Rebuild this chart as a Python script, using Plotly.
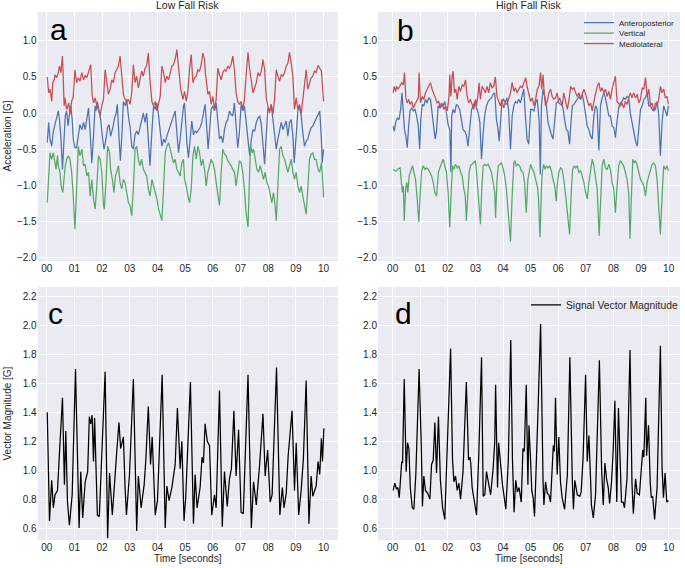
import plotly.graph_objects as go

W, H = 685, 568

# ---------------- data (time [s], acceleration [G]) ----------------
low_ap = [(0.02,-0.41),(0.07,-0.13),(0.12,-0.36),(0.18,-0.46),(0.24,-0.25),(0.30,-0.16),(0.36,-0.09),(0.42,0.03),(0.46,-0.09),(0.51,-0.32),(0.57,-0.78),(0.63,-0.32),(0.67,-0.04),(0.72,0.03),(0.77,-0.18),(0.82,-0.02),(0.87,0.10),(0.92,-0.09),(0.96,-0.36),(1.02,-0.48),(1.08,-0.48),(1.14,-0.32),(1.20,-0.16),(1.27,-0.23),(1.33,-0.13),(1.39,-0.23),(1.45,-0.09),(1.51,0.07),(1.57,-0.27),(1.63,-0.69),(1.69,-0.32),(1.75,0.10),(1.78,0.03),(1.83,0.16),(1.89,0.03),(1.95,-0.09),(2.02,-0.36),(2.07,-0.50),(2.14,-0.36),(2.20,-0.20),(2.25,-0.16),(2.31,-0.32),(2.39,-0.20),(2.45,-0.07),(2.51,0.00),(2.55,0.12),(2.61,-0.32),(2.66,-0.66),(2.72,-0.27),(2.77,0.16),(2.84,0.10),(2.89,0.19),(2.95,-0.04),(3.01,-0.20),(3.07,-0.46),(3.13,-0.50),(3.19,-0.30),(3.25,-0.25),(3.31,-0.30),(3.37,-0.20),(3.43,-0.09),(3.49,0.00),(3.55,-0.13),(3.61,0.00),(3.67,-0.36),(3.73,-0.73),(3.80,-0.25),(3.86,0.10),(3.92,0.05),(3.98,0.14),(4.04,-0.04),(4.10,-0.23),(4.16,-0.46),(4.22,-0.36),(4.28,-0.41),(4.34,-0.32),(4.40,-0.25),(4.46,-0.16),(4.52,-0.09),(4.58,-0.02),(4.64,0.03),(4.70,-0.27),(4.76,-0.55),(4.82,-0.36),(4.88,-0.09),(4.94,0.10),(4.98,0.14),(5.01,-0.09),(5.06,-0.41),(5.12,-0.62),(5.18,-0.32),(5.24,-0.11),(5.30,-0.30),(5.36,-0.25),(5.42,-0.27),(5.48,-0.23),(5.54,-0.20),(5.60,-0.13),(5.66,0.03),(5.72,0.12),(5.78,-0.20),(5.83,-0.50),(5.88,-0.25),(5.94,0.05),(6.00,0.10),(6.06,0.03),(6.12,0.14),(6.18,-0.09),(6.24,-0.36),(6.30,-0.32),(6.36,-0.41),(6.42,-0.23),(6.48,-0.13),(6.54,-0.09),(6.60,0.03),(6.66,-0.02),(6.72,-0.04),(6.78,0.14),(6.84,-0.18),(6.90,-0.48),(6.96,-0.27),(7.02,0.12),(7.08,0.03),(7.14,0.10),(7.20,-0.11),(7.27,-0.41),(7.33,-0.59),(7.39,-0.36),(7.45,-0.23),(7.51,-0.25),(7.57,-0.13),(7.63,-0.07),(7.69,-0.04),(7.75,-0.16),(7.81,-0.46),(7.87,-0.71),(7.93,-0.30),(7.99,0.07),(8.05,0.03),(8.11,0.12),(8.17,-0.09),(8.23,-0.30),(8.29,-0.50),(8.35,-0.36),(8.41,-0.23),(8.47,-0.13),(8.53,-0.23),(8.59,-0.18),(8.65,-0.11),(8.71,-0.32),(8.77,-0.13),(8.83,-0.09),(8.89,-0.32),(8.94,-0.69),(9.01,-0.20),(9.07,0.03),(9.13,0.10),(9.19,-0.04),(9.25,-0.27),(9.31,-0.46),(9.37,-0.39),(9.43,-0.36),(9.49,-0.27),(9.55,-0.20),(9.61,-0.18),(9.67,-0.13),(9.73,-0.09),(9.80,-0.04),(9.86,0.03),(9.92,-0.36),(9.95,-0.69),(10.0,-0.50)]

low_v = [(0.02,-1.24),(0.07,-0.82),(0.12,-0.55),(0.18,-0.64),(0.24,-0.55),(0.30,-0.69),(0.34,-0.78),(0.39,-0.59),(0.42,-0.73),(0.48,-0.82),(0.52,-1.01),(0.58,-1.10),(0.63,-0.82),(0.67,-0.73),(0.72,-0.64),(0.78,-0.59),(0.84,-0.64),(0.90,-0.82),(0.96,-1.15),(1.02,-1.61),(1.08,-1.05),(1.14,-0.46),(1.20,-0.59),(1.27,-0.50),(1.33,-0.73),(1.39,-0.71),(1.45,-0.87),(1.51,-0.82),(1.57,-1.15),(1.63,-0.92),(1.69,-1.19),(1.75,-1.33),(1.81,-1.01),(1.87,-0.59),(1.93,-0.64),(1.99,-0.82),(2.05,-1.28),(2.08,-1.33),(2.14,-0.96),(2.20,-0.46),(2.27,-0.55),(2.31,-0.78),(2.37,-0.92),(2.43,-1.10),(2.48,-0.87),(2.53,-0.82),(2.59,-0.73),(2.65,-0.96),(2.71,-1.05),(2.77,-0.92),(2.83,-0.96),(2.89,-1.10),(2.95,-1.24),(3.01,-1.28),(3.07,-1.42),(3.13,-1.05),(3.19,-0.50),(3.25,-0.46),(3.31,-0.64),(3.37,-0.73),(3.43,-0.64),(3.49,-0.78),(3.55,-0.82),(3.61,-0.87),(3.67,-1.05),(3.73,-1.15),(3.80,-0.92),(3.86,-1.01),(3.92,-1.10),(3.98,-1.19),(4.04,-1.33),(4.10,-1.42),(4.16,-1.49),(4.22,-1.05),(4.28,-0.55),(4.34,-0.46),(4.40,-0.41),(4.46,-0.50),(4.52,-0.59),(4.58,-0.69),(4.64,-0.64),(4.70,-0.78),(4.76,-0.82),(4.82,-0.87),(4.88,-0.69),(4.94,-0.64),(4.98,-0.92),(5.04,-1.01),(5.10,-1.15),(5.16,-1.24),(5.22,-1.05),(5.28,-0.59),(5.34,-0.46),(5.40,-0.64),(5.46,-0.46),(5.52,-0.55),(5.58,-0.73),(5.64,-0.64),(5.70,-0.78),(5.76,-1.01),(5.82,-0.82),(5.88,-0.73),(5.94,-0.64),(6.00,-0.69),(6.06,-0.78),(6.12,-0.96),(6.18,-1.15),(6.24,-1.28),(6.30,-0.82),(6.36,-0.50),(6.42,-0.57),(6.48,-0.59),(6.54,-0.66),(6.60,-0.69),(6.66,-0.73),(6.72,-0.78),(6.78,-0.82),(6.84,-1.01),(6.90,-0.82),(6.96,-0.66),(7.02,-0.69),(7.08,-0.82),(7.14,-1.05),(7.20,-1.38),(7.27,-1.58),(7.33,-0.96),(7.36,-0.43),(7.42,-0.55),(7.47,-0.50),(7.53,-0.64),(7.59,-0.78),(7.65,-0.82),(7.71,-0.73),(7.77,-0.82),(7.83,-0.92),(7.89,-0.82),(7.95,-0.96),(8.01,-1.01),(8.07,-1.15),(8.13,-1.24),(8.19,-1.10),(8.25,-1.28),(8.29,-1.49),(8.35,-0.96),(8.41,-0.50),(8.47,-0.46),(8.53,-0.59),(8.59,-0.64),(8.65,-0.73),(8.71,-0.82),(8.77,-0.73),(8.83,-0.64),(8.89,-0.82),(8.95,-0.92),(9.01,-0.82),(9.07,-1.01),(9.13,-1.10),(9.19,-1.01),(9.25,-1.15),(9.31,-1.28),(9.37,-1.40),(9.43,-1.05),(9.49,-0.64),(9.55,-0.57),(9.61,-0.55),(9.67,-0.64),(9.73,-0.64),(9.80,-0.78),(9.86,-0.82),(9.92,-0.69),(9.95,-0.82),(10.0,-1.17)]

low_ml = [(0.02,0.50),(0.07,0.28),(0.12,0.33),(0.18,0.16),(0.22,0.42),(0.27,0.46),(0.30,0.53),(0.36,0.49),(0.42,0.56),(0.46,0.65),(0.51,0.56),(0.57,0.79),(0.63,0.10),(0.66,0.21),(0.72,0.05),(0.80,0.14),(0.84,-0.02),(0.90,0.16),(0.96,0.23),(1.02,0.60),(1.08,0.42),(1.14,0.49),(1.20,0.44),(1.27,0.56),(1.33,0.46),(1.39,0.52),(1.45,0.49),(1.51,0.58),(1.59,0.67),(1.64,0.26),(1.69,0.14),(1.75,0.21),(1.81,0.10),(1.87,0.05),(1.93,-0.04),(1.99,0.10),(2.05,0.19),(2.11,0.60),(2.17,0.46),(2.23,0.26),(2.29,0.33),(2.35,0.46),(2.41,0.42),(2.47,0.56),(2.53,0.60),(2.59,0.65),(2.65,0.79),(2.71,0.46),(2.77,0.26),(2.83,0.19),(2.89,0.16),(2.95,0.19),(3.01,0.12),(3.07,0.28),(3.13,0.67),(3.19,0.42),(3.25,0.51),(3.31,0.35),(3.37,0.46),(3.43,0.58),(3.49,0.51),(3.55,0.62),(3.61,0.65),(3.67,0.83),(3.73,0.46),(3.80,0.16),(3.86,0.10),(3.92,0.16),(3.98,0.03),(4.04,0.12),(4.10,0.23),(4.16,0.65),(4.22,0.56),(4.28,0.42),(4.34,0.51),(4.40,0.46),(4.46,0.58),(4.52,0.65),(4.58,0.67),(4.64,0.74),(4.70,0.88),(4.73,0.76),(4.80,0.42),(4.84,0.33),(4.92,0.19),(4.98,0.30),(5.04,0.16),(5.10,0.30),(5.16,0.62),(5.22,0.81),(5.28,0.42),(5.34,0.49),(5.40,0.51),(5.46,0.60),(5.52,0.58),(5.58,0.67),(5.64,0.83),(5.70,0.74),(5.73,0.56),(5.82,0.26),(5.88,0.30),(5.94,0.12),(6.00,0.23),(6.06,0.05),(6.12,0.19),(6.18,0.62),(6.24,0.53),(6.30,0.46),(6.36,0.56),(6.42,0.60),(6.48,0.58),(6.54,0.65),(6.60,0.62),(6.66,0.67),(6.72,0.79),(6.78,0.60),(6.84,0.28),(6.90,0.16),(6.96,0.12),(7.02,0.16),(7.08,0.05),(7.14,0.19),(7.20,0.51),(7.27,0.84),(7.33,0.60),(7.39,0.42),(7.45,0.28),(7.51,0.35),(7.57,0.42),(7.63,0.56),(7.69,0.51),(7.75,0.58),(7.81,0.74),(7.87,0.60),(7.93,0.21),(7.99,0.10),(8.05,0.00),(8.11,0.12),(8.17,-0.02),(8.23,0.19),(8.29,0.60),(8.35,0.51),(8.41,0.44),(8.47,0.53),(8.53,0.51),(8.59,0.56),(8.65,0.65),(8.71,0.69),(8.77,0.84),(8.83,0.69),(8.89,0.51),(8.95,0.05),(9.01,0.21),(9.07,0.05),(9.13,0.12),(9.19,-0.02),(9.25,0.16),(9.31,0.42),(9.37,0.60),(9.43,0.33),(9.49,0.42),(9.55,0.49),(9.61,0.51),(9.67,0.58),(9.73,0.56),(9.80,0.66),(9.86,0.62),(9.92,0.58),(9.95,0.42),(10.0,0.16)]

high_ap = [(0.02,-0.18),(0.06,-0.25),(0.11,-0.13),(0.17,-0.07),(0.23,-0.09),(0.29,0.05),(0.34,0.28),(0.39,-0.04),(0.43,-0.23),(0.48,-0.32),(0.53,-0.48),(0.58,-0.18),(0.63,0.03),(0.69,0.07),(0.75,0.03),(0.81,0.05),(0.87,-0.04),(0.93,-0.18),(0.98,-0.50),(1.02,-0.09),(1.07,0.12),(1.13,0.10),(1.19,0.19),(1.25,0.14),(1.31,0.21),(1.37,0.19),(1.43,-0.04),(1.49,-0.18),(1.54,-0.36),(1.59,-0.25),(1.65,0.10),(1.71,0.07),(1.77,0.14),(1.83,0.10),(1.89,0.16),(1.95,0.00),(2.01,-0.16),(2.07,-0.23),(2.11,-0.82),(2.14,-0.04),(2.19,0.05),(2.25,0.00),(2.31,0.12),(2.37,0.10),(2.43,0.05),(2.49,-0.09),(2.55,-0.23),(2.61,-0.25),(2.67,-0.30),(2.73,-0.46),(2.80,-0.23),(2.86,0.05),(2.92,0.10),(2.98,0.16),(3.04,0.07),(3.10,0.00),(3.16,-0.13),(3.22,-0.64),(3.28,-0.27),(3.34,-0.02),(3.40,0.10),(3.46,0.16),(3.52,0.19),(3.58,0.21),(3.64,0.26),(3.70,0.28),(3.76,-0.09),(3.82,-0.23),(3.86,-0.39),(3.90,-0.13),(3.96,0.16),(4.02,0.19),(4.08,0.14),(4.14,0.21),(4.20,0.05),(4.27,-0.50),(4.33,-0.04),(4.39,0.10),(4.45,0.16),(4.51,0.14),(4.57,0.19),(4.63,0.14),(4.69,0.23),(4.75,0.33),(4.81,-0.04),(4.87,-0.36),(4.93,-0.43),(5.00,0.05),(5.06,0.05),(5.12,0.03),(5.18,0.14),(5.24,0.19),(5.31,-0.13),(5.35,-0.85),(5.39,0.10),(5.45,0.33),(5.51,0.23),(5.57,0.10),(5.63,-0.13),(5.69,-0.23),(5.75,-0.30),(5.81,-0.36),(5.87,-0.09),(5.93,0.14),(5.99,0.16),(6.05,0.21),(6.11,0.14),(6.17,0.07),(6.23,-0.09),(6.29,-0.23),(6.35,-0.25),(6.41,-0.43),(6.46,-0.13),(6.51,0.10),(6.57,0.12),(6.63,0.16),(6.69,0.19),(6.75,0.23),(6.81,0.19),(6.87,0.26),(6.93,0.14),(6.99,0.00),(7.05,-0.18),(7.11,-0.23),(7.17,-0.32),(7.23,-0.36),(7.29,-0.04),(7.35,0.10),(7.41,0.05),(7.47,-0.52),(7.53,0.10),(7.59,0.21),(7.65,0.28),(7.71,0.21),(7.77,0.10),(7.83,-0.04),(7.89,-0.04),(7.95,-0.18),(8.01,-0.20),(8.07,-0.34),(8.13,-0.11),(8.19,0.07),(8.25,0.14),(8.31,0.16),(8.37,0.21),(8.43,0.19),(8.49,0.23),(8.55,0.21),(8.61,0.00),(8.67,-0.13),(8.73,-0.20),(8.80,-0.39),(8.86,-0.46),(8.92,-0.23),(8.98,0.05),(9.04,0.10),(9.10,0.19),(9.16,0.21),(9.22,0.28),(9.28,0.10),(9.34,0.10),(9.40,0.05),(9.46,0.03),(9.52,0.05),(9.58,0.16),(9.64,-0.02),(9.70,-0.59),(9.76,-0.13),(9.82,0.10),(9.88,0.03),(9.94,-0.04),(9.99,0.10)]

high_v = [(0.02,-0.78),(0.08,-0.80),(0.14,-0.80),(0.20,-0.77),(0.27,-0.76),(0.31,-0.92),(0.35,-1.10),(0.39,-1.01),(0.42,-1.49),(0.47,-1.05),(0.51,-0.96),(0.55,-1.10),(0.60,-0.87),(0.66,-0.80),(0.72,-0.73),(0.77,-0.82),(0.83,-0.92),(0.89,-1.19),(0.95,-1.51),(1.00,-1.10),(1.05,-0.80),(1.11,-0.73),(1.17,-0.78),(1.23,-0.76),(1.29,-0.78),(1.35,-0.82),(1.41,-0.87),(1.47,-0.96),(1.53,-1.10),(1.59,-1.15),(1.63,-0.92),(1.66,-0.82),(1.71,-0.76),(1.77,-0.69),(1.83,-0.64),(1.89,-0.73),(1.95,-0.82),(2.01,-1.10),(2.07,-1.58),(2.12,-1.10),(2.17,-0.73),(2.22,-0.78),(2.28,-0.71),(2.34,-0.76),(2.40,-0.73),(2.46,-0.82),(2.52,-0.87),(2.58,-1.05),(2.63,-1.15),(2.67,-1.49),(2.72,-1.05),(2.77,-0.82),(2.82,-0.73),(2.88,-0.71),(2.94,-0.69),(3.00,-0.66),(3.04,-0.82),(3.08,-1.01),(3.12,-1.15),(3.18,-1.54),(3.23,-1.05),(3.28,-0.73),(3.34,-0.71),(3.40,-0.73),(3.46,-0.71),(3.52,-0.76),(3.58,-0.82),(3.64,-0.96),(3.70,-1.10),(3.73,-1.45),(3.78,-0.92),(3.83,-0.73),(3.88,-0.71),(3.94,-0.69),(4.00,-0.76),(4.06,-0.87),(4.12,-1.05),(4.18,-1.38),(4.27,-1.78),(4.33,-1.15),(4.39,-0.69),(4.43,-0.66),(4.48,-0.73),(4.54,-0.71),(4.60,-0.73),(4.66,-0.80),(4.72,-0.82),(4.78,-0.96),(4.84,-1.38),(4.90,-0.92),(5.00,-0.71),(5.06,-0.78),(5.12,-0.82),(5.18,-0.92),(5.24,-1.01),(5.28,-1.15),(5.34,-1.72),(5.39,-1.05),(5.42,-0.82),(5.47,-0.71),(5.52,-0.78),(5.57,-0.73),(5.63,-0.76),(5.69,-0.73),(5.75,-0.80),(5.81,-0.92),(5.87,-1.01),(5.93,-1.22),(5.96,-1.01),(6.02,-0.82),(6.08,-0.76),(6.14,-0.78),(6.20,-0.92),(6.27,-1.15),(6.33,-1.38),(6.41,-1.68),(6.47,-1.10),(6.52,-0.78),(6.58,-0.73),(6.63,-0.76),(6.69,-0.73),(6.75,-0.82),(6.81,-0.80),(6.87,-0.87),(6.93,-0.96),(6.99,-1.10),(7.05,-1.19),(7.11,-0.96),(7.17,-0.82),(7.23,-0.64),(7.29,-0.73),(7.35,-0.92),(7.41,-1.05),(7.48,-1.70),(7.53,-1.15),(7.59,-0.73),(7.65,-0.64),(7.71,-0.76),(7.77,-0.78),(7.83,-0.71),(7.89,-0.78),(7.95,-0.96),(8.01,-1.05),(8.07,-1.38),(8.13,-1.01),(8.19,-0.73),(8.25,-0.66),(8.31,-0.69),(8.37,-0.73),(8.43,-0.82),(8.49,-0.92),(8.55,-1.10),(8.60,-1.74),(8.65,-1.15),(8.70,-0.64),(8.75,-0.69),(8.80,-0.66),(8.86,-0.73),(8.92,-0.82),(8.98,-0.92),(9.04,-0.96),(9.10,-1.01),(9.16,-1.15),(9.22,-0.96),(9.28,-0.87),(9.34,-0.78),(9.40,-0.71),(9.46,-0.69),(9.52,-0.73),(9.58,-0.92),(9.64,-1.28),(9.70,-1.68),(9.76,-1.15),(9.82,-0.73),(9.88,-0.78),(9.94,-0.73),(9.99,-0.80)]

high_ml = [(0.02,0.28),(0.06,0.37),(0.11,0.30),(0.14,0.37),(0.20,0.33),(0.27,0.37),(0.33,0.42),(0.39,0.39),(0.43,0.56),(0.48,0.21),(0.53,0.14),(0.58,0.19),(0.63,0.12),(0.69,0.16),(0.75,0.07),(0.81,0.12),(0.87,0.16),(0.93,0.21),(0.96,0.56),(1.01,0.14),(1.07,0.23),(1.13,0.19),(1.19,0.28),(1.25,0.33),(1.31,0.37),(1.37,0.42),(1.43,0.33),(1.49,0.28),(1.55,0.21),(1.61,0.14),(1.67,0.16),(1.73,0.07),(1.80,0.12),(1.86,0.05),(1.92,0.10),(1.98,0.03),(2.04,0.23),(2.07,0.53),(2.11,0.23),(2.16,0.53),(2.19,0.58),(2.24,0.28),(2.29,0.33),(2.34,0.19),(2.40,0.37),(2.46,0.30),(2.52,0.39),(2.58,0.37),(2.64,0.46),(2.70,0.23),(2.76,0.14),(2.82,0.19),(2.88,0.10),(2.94,0.05),(3.00,0.19),(3.04,0.10),(3.10,0.28),(3.13,0.42),(3.18,0.19),(3.24,0.37),(3.30,0.33),(3.36,0.28),(3.42,0.37),(3.48,0.28),(3.54,0.42),(3.60,0.35),(3.66,0.37),(3.72,0.50),(3.78,0.23),(3.84,0.16),(3.90,0.10),(3.96,0.19),(4.02,0.07),(4.08,0.14),(4.14,0.12),(4.20,0.19),(4.27,0.28),(4.33,0.42),(4.39,0.30),(4.45,0.35),(4.51,0.28),(4.57,0.33),(4.63,0.37),(4.69,0.35),(4.75,0.42),(4.82,0.49),(4.87,0.37),(4.93,0.28),(5.00,0.16),(5.06,0.21),(5.12,0.10),(5.18,0.19),(5.24,0.33),(5.30,0.37),(5.36,0.56),(5.40,0.33),(5.45,0.53),(5.49,0.28),(5.54,0.10),(5.60,0.16),(5.66,0.28),(5.72,0.33),(5.78,0.23),(5.84,0.19),(5.90,0.21),(5.96,0.28),(6.02,0.14),(6.08,0.12),(6.14,0.10),(6.20,0.28),(6.27,0.14),(6.33,0.05),(6.39,0.19),(6.45,0.37),(6.51,0.33),(6.57,0.35),(6.63,0.28),(6.69,0.23),(6.75,0.28),(6.81,0.19),(6.87,0.26),(6.93,0.33),(6.99,0.26),(7.05,0.16),(7.11,0.10),(7.17,0.14),(7.23,0.03),(7.29,0.16),(7.35,0.28),(7.41,0.37),(7.47,0.42),(7.53,0.30),(7.59,0.35),(7.65,0.28),(7.71,0.33),(7.77,0.23),(7.83,0.30),(7.89,0.19),(7.95,0.33),(8.01,0.42),(8.07,0.51),(8.13,0.16),(8.19,0.12),(8.25,0.10),(8.31,0.14),(8.37,0.07),(8.43,0.16),(8.49,0.12),(8.55,0.21),(8.61,0.28),(8.67,0.21),(8.73,0.28),(8.80,0.21),(8.86,0.26),(8.92,0.14),(8.98,0.19),(9.04,0.35),(9.10,0.33),(9.16,0.49),(9.22,0.23),(9.28,0.33),(9.34,0.10),(9.40,0.14),(9.46,0.03),(9.52,0.14),(9.58,0.10),(9.64,0.19),(9.70,0.37),(9.76,0.28),(9.82,0.33),(9.88,0.21),(9.94,0.23),(9.99,0.12)]

# signal vector magnitude [G]
low_svm = [(0.02,1.40),(0.10,0.65),(0.18,0.93),(0.24,0.74),(0.30,0.83),(0.39,0.86),(0.45,1.08),(0.57,1.50),(0.64,0.90),(0.69,1.27),(0.75,0.78),(0.82,0.62),(0.92,0.83),(1.04,1.70),(1.17,0.60),(1.23,0.99),(1.30,0.67),(1.39,0.92),(1.48,0.99),(1.54,1.37),(1.59,1.32),(1.64,1.38),(1.69,1.06),(1.73,1.36),(1.83,0.69),(1.90,0.68),(2.11,1.68),(2.20,0.53),(2.27,0.98),(2.37,0.69),(2.53,1.13),(2.61,1.33),(2.67,1.15),(2.77,1.23),(2.83,0.88),(2.88,0.69),(2.99,0.97),(3.13,1.63),(3.25,0.58),(3.31,0.96),(3.41,0.74),(3.52,0.90),(3.58,1.07),(3.67,1.44),(3.75,1.04),(3.81,1.23),(3.92,0.69),(4.00,0.79),(4.17,1.66),(4.28,0.60),(4.34,0.89),(4.42,0.79),(4.52,0.88),(4.64,1.04),(4.72,1.43),(4.82,1.01),(4.88,1.20),(4.96,0.65),(5.02,0.81),(5.19,1.61),(5.30,0.63),(5.36,0.97),(5.43,0.74),(5.54,0.88),(5.61,1.09),(5.66,1.05),(5.72,1.32),(5.80,1.20),(5.88,1.17),(5.96,0.69),(6.06,0.83),(6.12,0.74),(6.24,1.55),(6.34,0.61),(6.42,0.99),(6.52,0.75),(6.60,0.94),(6.67,1.01),(6.76,1.41),(6.84,0.96),(6.93,1.28),(7.02,0.71),(7.10,0.70),(7.27,1.66),(7.39,0.60),(7.47,0.92),(7.57,0.76),(7.69,1.04),(7.81,1.39),(7.89,0.96),(7.98,1.14),(8.07,0.78),(8.14,0.83),(8.30,1.71),(8.42,0.69),(8.51,0.88),(8.57,0.74),(8.65,0.84),(8.72,1.10),(8.86,1.41),(8.95,0.86),(9.01,1.19),(9.10,0.69),(9.19,0.86),(9.27,1.08),(9.37,1.62),(9.47,0.63),(9.55,0.96),(9.61,0.82),(9.73,0.89),(9.80,1.06),(9.86,0.97),(9.92,1.22),(9.96,1.06),(10.01,1.29)]

high_svm = [(0.02,0.86),(0.08,0.91),(0.14,0.87),(0.19,0.88),(0.24,0.81),(0.33,1.06),(0.36,1.05),(0.42,1.63),(0.49,0.99),(0.54,1.19),(0.59,1.15),(0.64,0.88),(0.71,0.74),(0.77,0.73),(0.84,0.97),(0.96,1.70),(1.04,1.15),(1.08,0.75),(1.13,0.96),(1.19,0.86),(1.27,0.84),(1.35,0.80),(1.41,1.04),(1.47,1.07),(1.53,1.33),(1.59,0.98),(1.66,1.37),(1.73,0.93),(1.81,0.74),(1.89,0.66),(2.10,1.84),(2.17,1.07),(2.22,0.92),(2.28,0.96),(2.34,0.86),(2.40,0.91),(2.46,0.80),(2.55,0.99),(2.67,1.61),(2.75,1.07),(2.80,1.09),(2.83,1.05),(2.88,0.88),(2.95,0.78),(3.04,0.69),(3.12,1.10),(3.22,1.78),(3.28,0.82),(3.34,0.83),(3.40,0.99),(3.47,0.91),(3.55,0.83),(3.64,1.01),(3.70,1.20),(3.73,1.59),(3.80,0.88),(3.84,1.19),(3.90,1.06),(3.98,0.90),(4.10,0.73),(4.19,1.06),(4.28,1.90),(4.34,1.08),(4.40,0.71),(4.46,0.93),(4.52,0.85),(4.58,0.88),(4.66,0.78),(4.72,1.15),(4.77,1.13),(4.84,1.59),(4.90,0.90),(4.94,1.31),(4.99,1.10),(5.04,0.86),(5.09,0.81),(5.14,0.68),(5.27,1.43),(5.36,2.01),(5.45,0.92),(5.48,0.76),(5.54,0.92),(5.60,0.84),(5.66,0.83),(5.72,0.78),(5.82,1.17),(5.86,1.13),(5.90,1.50),(5.96,0.97),(6.02,1.23),(6.08,0.92),(6.14,0.81),(6.23,0.73),(6.33,0.97),(6.42,1.78),(6.51,0.92),(6.55,0.73),(6.60,0.93),(6.69,0.83),(6.78,0.82),(6.83,0.85),(6.90,1.09),(6.99,1.66),(7.05,1.06),(7.11,1.24),(7.17,0.94),(7.20,0.76),(7.27,0.67),(7.35,0.83),(7.49,1.76),(7.57,1.01),(7.63,0.76),(7.69,1.05),(7.75,0.94),(7.81,0.88),(7.86,0.77),(7.93,0.92),(7.99,1.14),(8.05,1.48),(8.12,0.78),(8.18,1.43),(8.25,1.02),(8.29,0.78),(8.35,0.78),(8.40,0.74),(8.49,0.94),(8.60,1.83),(8.67,0.91),(8.72,0.70),(8.80,0.94),(8.86,0.84),(8.94,0.83),(9.01,1.06),(9.06,1.14),(9.10,1.09),(9.17,1.50),(9.20,1.10),(9.27,1.31),(9.33,0.92),(9.37,0.81),(9.42,0.82),(9.49,0.66),(9.58,0.88),(9.70,1.86),(9.76,1.02),(9.81,0.81),(9.87,0.98),(9.93,0.78),(9.99,0.79)]

x_tick_vals = list(range(11))
x_tick_text = ["00", "01", "02", "03", "04", "05", "06", "07", "08", "09", "10"]
acc_ticks = [1.0, 0.5, 0.0, -0.5, -1.0, -1.5, -2.0]
svm_ticks = [0.6, 0.8, 1.0, 1.2, 1.4, 1.6, 1.8, 2.0, 2.2]

names = ["Anteroposterior", "Vertical", "Mediolateral"]
colors = ["#4C72B0", "#55A868", "#C44E52"]

# ---------------- figure ----------------
FONT = "Liberation Sans, Arial, sans-serif"
TXT = "#262626"
BG = "#EAEAF2"
LW = 1.25

def xs(s): return [p[0] for p in s]
def ys(s): return [p[1] for p in s]

fig = go.Figure()

for series, name, col in zip([low_ap, low_v, low_ml], names, colors):
    fig.add_trace(go.Scatter(x=xs(series), y=ys(series), mode="lines", name=name,
                             line=dict(color=col, width=LW), showlegend=False,
                             xaxis="x", yaxis="y"))
legend_ids = ["legend", "legend3", "legend4"]
for series, name, col, lg in zip([high_ap, high_v, high_ml], names, colors, legend_ids):
    fig.add_trace(go.Scatter(x=xs(series), y=ys(series), mode="lines", name=name,
                             line=dict(color=col, width=LW), showlegend=True,
                             legend=lg, xaxis="x2", yaxis="y2"))
fig.add_trace(go.Scatter(x=xs(low_svm), y=ys(low_svm), mode="lines", name="Signal Vector Magnitude",
                         line=dict(color="black", width=LW), showlegend=False,
                         xaxis="x3", yaxis="y3"))
fig.add_trace(go.Scatter(x=xs(high_svm), y=ys(high_svm), mode="lines", name="Signal Vector Magnitude",
                         line=dict(color="black", width=LW), showlegend=True,
                         legend="legend2", xaxis="x4", yaxis="y4"))

def px_x(a, b): return [a / W, b / W]
def px_y(top, bottom): return [1 - bottom / H, 1 - top / H]

LX = (37.7, 338.0)
RX = (378.0, 680.0)
TY = (12.0, 262.0)
BY = (288.0, 542.0)

axis_common = dict(showgrid=True, gridcolor="white", gridwidth=1, zeroline=False,
                   showline=False, ticks="", tickfont=dict(family=FONT, size=10, color=TXT))

xa = dict(axis_common, tickvals=x_tick_vals, ticktext=x_tick_text)

def leg(xleft, ycenter, size):
    return dict(x=xleft / W, y=1 - ycenter / H, xanchor="left", yanchor="middle",
                bgcolor="rgba(0,0,0,0)", borderwidth=0, itemwidth=30,
                font=dict(family=FONT, size=size, color=TXT))

fig.update_layout(
    xaxis=dict(xa, domain=px_x(*LX), range=[-0.325, 10.52], anchor="y"),
    yaxis=dict(axis_common, domain=px_y(*TY), range=[-2.05, 1.40], tickvals=acc_ticks,
               tickformat=".1f", anchor="x"),
    xaxis2=dict(xa, domain=px_x(*RX), range=[-0.53, 10.41], anchor="y2"),
    yaxis2=dict(axis_common, domain=px_y(*TY), range=[-2.05, 1.40], tickvals=acc_ticks,
                tickformat=".1f", anchor="x2"),
    xaxis3=dict(xa, domain=px_x(*LX), range=[-0.325, 10.52], anchor="y3"),
    yaxis3=dict(axis_common, domain=px_y(*BY), range=[0.517, 2.266], tickvals=svm_ticks,
                tickformat=".1f", anchor="x3"),
    xaxis4=dict(xa, domain=px_x(*RX), range=[-0.53, 10.41], anchor="y4"),
    yaxis4=dict(axis_common, domain=px_y(*BY), range=[0.517, 2.266], tickvals=svm_ticks,
                tickformat=".1f", anchor="x4"),
    width=W, height=H,
    margin=dict(l=0, r=0, t=0, b=0),
    paper_bgcolor="white",
    plot_bgcolor=BG,
    font=dict(family=FONT, size=10, color=TXT),
    legend=leg(579, 22.7, 8),
    legend3=leg(579, 33.3, 8),
    legend4=leg(579, 43.7, 8),
    legend2=leg(526, 306, 10.3),
)

ann = []
def add_text(text, x, y, size, xanchor="center", yanchor="middle", angle=0):
    ann.append(dict(text=text, x=x / W, y=1 - y / H, xref="paper", yref="paper",
                    showarrow=False, xanchor=xanchor, yanchor=yanchor, textangle=angle,
                    font=dict(family=FONT, size=size, color=TXT if size < 20 else "black")))

add_text("Low Fall Risk", (LX[0] + LX[1]) / 2, 5.5, 10.5)
add_text("High Fall Risk", (RX[0] + RX[1]) / 2, 5.5, 10.5)
add_text("Acceleration [G]", 8, 137, 10, angle=-90)
add_text("Vector Magnitude [G]", 8, 415, 10, angle=-90)
add_text("Time [seconds]", (LX[0] + LX[1]) / 2, 560, 10)
add_text("Time [seconds]", (RX[0] + RX[1]) / 2, 560, 10)
add_text("a", 48, 30, 30, xanchor="left")
add_text("b", 395, 31, 30, xanchor="left")
add_text("c", 46, 315, 30, xanchor="left")
add_text("d", 393, 315, 30, xanchor="left")
fig.update_layout(annotations=ann)

fig.write_html("out.html", config={"displayModeBar": False},
               post_script="document.body.style.margin='0';document.body.style.padding='0';")
